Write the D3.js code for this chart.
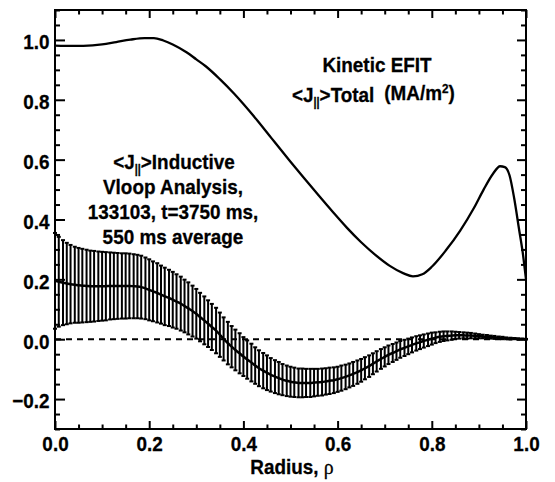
<!DOCTYPE html>
<html>
<head>
<meta charset="utf-8">
<script src="https://cdn.jsdelivr.net/npm/d3@7"></script>
<style>
  html, body { margin: 0; padding: 0; background: #fff; }
  svg { display: block; }
  .lbl { font-family: "Liberation Sans", Arial, Helvetica, sans-serif; font-weight: bold; fill: #000;
         font-size: 21px; stroke: #000; stroke-width: 0.3px; }
</style>
</head>
<body>
<svg id="chart" width="555" height="482"></svg>
<script>
// Normalized radius grid of the inductive-current profile
const rho = [
  0.000,0.008,0.017,0.025,0.033,0.042,0.050,0.058,0.067,0.075,0.083,0.092,
  0.100,0.108,0.117,0.125,0.133,0.142,0.150,0.158,0.167,0.175,0.183,0.192,
  0.200,0.208,0.217,0.225,0.233,0.242,0.250,0.258,0.267,0.275,0.283,0.292,
  0.300,0.308,0.317,0.325,0.333,0.342,0.350,0.358,0.367,0.375,0.383,0.392,
  0.400,0.408,0.417,0.425,0.433,0.442,0.450,0.458,0.467,0.475,0.483,0.492,
  0.500,0.508,0.517,0.525,0.533,0.542,0.550,0.558,0.567,0.575,0.583,0.592,
  0.600,0.608,0.617,0.625,0.633,0.642,0.650,0.658,0.667,0.675,0.683,0.692,
  0.700,0.708,0.717,0.725,0.733,0.742,0.750,0.758,0.767,0.775,0.783,0.792,
  0.800,0.808,0.817,0.825,0.833,0.842,0.850,0.858,0.867,0.875,0.883,0.892,
  0.900,0.908,0.917,0.925,0.933,0.942,0.950,0.958,0.967,0.975,0.983,0.992,
  1.000
];
// <J||> inductive, Vloop analysis (MA/m^2), 550 ms average
const jInductive = [
  0.195,0.192,0.189,0.186,0.184,0.182,0.180,0.179,0.178,0.177,0.177,0.177,
  0.177,0.177,0.178,0.178,0.178,0.178,0.178,0.178,0.177,0.176,0.174,0.170,
  0.165,0.160,0.155,0.149,0.143,0.138,0.132,0.126,0.119,0.111,0.103,0.094,
  0.085,0.074,0.063,0.052,0.041,0.029,0.015,0.001,-0.013,-0.025,-0.036,-0.047,
  -0.058,-0.068,-0.078,-0.088,-0.097,-0.105,-0.112,-0.119,-0.125,-0.130,-0.135,-0.139,
  -0.142,-0.144,-0.146,-0.146,-0.146,-0.146,-0.145,-0.144,-0.143,-0.141,-0.139,-0.137,
  -0.134,-0.130,-0.126,-0.121,-0.116,-0.110,-0.104,-0.097,-0.090,-0.082,-0.074,-0.066,
  -0.059,-0.052,-0.046,-0.040,-0.034,-0.029,-0.024,-0.019,-0.014,-0.010,-0.006,-0.002,
  0.002,0.005,0.008,0.010,0.011,0.012,0.013,0.013,0.013,0.012,0.012,0.011,
  0.010,0.009,0.008,0.007,0.006,0.005,0.004,0.003,0.002,0.002,0.001,0.001,
  0.000
];
// One-sigma spread over the averaging window
const jInductiveErr = [
  0.160,0.150,0.142,0.136,0.131,0.127,0.125,0.123,0.121,0.119,0.118,0.116,
  0.115,0.114,0.112,0.111,0.110,0.109,0.109,0.108,0.107,0.106,0.105,0.103,
  0.102,0.100,0.099,0.097,0.096,0.094,0.093,0.091,0.090,0.088,0.087,0.085,
  0.083,0.081,0.080,0.078,0.077,0.076,0.074,0.072,0.071,0.069,0.068,0.067,
  0.065,0.064,0.063,0.061,0.060,0.059,0.058,0.056,0.055,0.054,0.052,0.051,
  0.050,0.049,0.048,0.048,0.047,0.047,0.046,0.045,0.045,0.044,0.044,0.043,
  0.042,0.042,0.041,0.040,0.040,0.039,0.038,0.037,0.036,0.035,0.034,0.033,
  0.032,0.031,0.030,0.029,0.028,0.027,0.026,0.025,0.024,0.023,0.022,0.021,
  0.020,0.018,0.017,0.016,0.015,0.014,0.012,0.011,0.010,0.010,0.009,0.008,
  0.007,0.006,0.006,0.005,0.005,0.004,0.004,0.003,0.003,0.002,0.002,0.001,
  0.001
];
// Kinetic EFIT total <J||> profile
const rhoTotal = [0.00,0.04,0.08,0.10,0.13,0.16,0.19,0.21,0.23,0.25,0.28,0.30,0.32,0.35,0.38,0.40,
  0.43,0.46,0.50,0.53,0.56,0.59,0.62,0.65,0.68,0.71,0.74,0.76,0.78,0.80,0.83,0.86,0.89,0.91,0.93,
  0.945,0.955,0.965,0.975,0.985,0.993,1.000];
const jTotal = [0.981,0.980,0.982,0.985,0.993,1.001,1.006,1.006,0.998,0.985,0.958,0.935,0.912,0.869,0.821,0.786,
  0.730,0.671,0.593,0.536,0.480,0.425,0.372,0.324,0.282,0.246,0.220,0.210,0.217,0.242,0.297,0.362,0.440,0.500,0.553,
  0.578,0.575,0.548,0.470,0.370,0.290,0.200];

const xMajor = [0.0, 0.2, 0.4, 0.6, 0.8, 1.0];
const yMajor = [-0.2, 0.0, 0.2, 0.4, 0.6, 0.8, 1.0];

const plotL = 55, plotR = 526, plotT = 10, plotB = 429;
const squeeze = 0.9;   // horizontal condensing of the bold lettering
const svg = d3.select("#chart");
const x = d3.scaleLinear().domain([0, 1]).range([plotL, plotR]);
const y = d3.scaleLinear().domain([-0.3, 1.1]).range([plotB, plotT]);

const isMajor = v => Math.abs(v / 0.2 - Math.round(v / 0.2)) < 1e-6;
const xMinor = d3.range(0, 1.0001, 0.05).filter(v => !isMajor(v));
const yMinor = d3.range(-0.3, 1.1001, 0.05).filter(v => !isMajor(v));

const fmt = d3.format(".1f");

function styleAxis(g, labels) {
  g.select(".domain").remove();
  g.selectAll(".tick line").attr("stroke", "#000").attr("stroke-width", 2);
  if (labels) g.selectAll(".tick text").attr("class", "lbl").attr("transform", `scale(${squeeze},1)`);
  else g.selectAll(".tick text").remove();
}

// Bottom / top
svg.append("g").attr("transform", `translate(0,${plotB})`)
  .call(d3.axisBottom(x).tickValues(xMajor).tickSize(-8).tickPadding(7).tickFormat(fmt))
  .call(g => styleAxis(g, true));
svg.append("g").attr("transform", `translate(0,${plotB})`)
  .call(d3.axisBottom(x).tickValues(xMinor).tickSize(-4.5).tickFormat(""))
  .call(g => styleAxis(g, false));
svg.append("g").attr("transform", `translate(0,${plotT})`)
  .call(d3.axisTop(x).tickValues(xMajor).tickSize(-8).tickFormat(""))
  .call(g => styleAxis(g, false));
svg.append("g").attr("transform", `translate(0,${plotT})`)
  .call(d3.axisTop(x).tickValues(xMinor).tickSize(-4.5).tickFormat(""))
  .call(g => styleAxis(g, false));
// Left / right
svg.append("g").attr("transform", `translate(${plotL},0)`)
  .call(d3.axisLeft(y).tickValues(yMajor).tickSize(-10).tickPadding(6).tickFormat(fmt))
  .call(g => styleAxis(g, true))
  .call(g => g.selectAll(".tick text").attr("dy", "0.42em"));
svg.append("g").attr("transform", `translate(${plotL},0)`)
  .call(d3.axisLeft(y).tickValues(yMinor).tickSize(-5).tickFormat(""))
  .call(g => styleAxis(g, false));
svg.append("g").attr("transform", `translate(${plotR},0)`)
  .call(d3.axisRight(y).tickValues(yMajor).tickSize(-9).tickFormat(""))
  .call(g => styleAxis(g, false));
svg.append("g").attr("transform", `translate(${plotR},0)`)
  .call(d3.axisRight(y).tickValues(yMinor).tickSize(-5).tickFormat(""))
  .call(g => styleAxis(g, false));

// Frame
svg.append("rect").attr("x", plotL).attr("y", plotT)
  .attr("width", plotR - plotL).attr("height", plotB - plotT)
  .attr("fill", "none").attr("stroke", "#000").attr("stroke-width", 2);

// Zero reference
svg.append("line").attr("x1", x(0)).attr("x2", x(1)).attr("y1", y(0)).attr("y2", y(0))
  .attr("stroke", "#000").attr("stroke-width", 2).attr("stroke-dasharray", "6,5");

// Inductive profile: error bars with caps
const bars = svg.append("g").attr("stroke", "#000").attr("stroke-width", 2);
rho.forEach((r, i) => {
  const cx = x(r), y1 = y(jInductive[i] + jInductiveErr[i]), y2 = y(jInductive[i] - jInductiveErr[i]);
  bars.append("line").attr("x1", cx).attr("x2", cx).attr("y1", y1).attr("y2", y2);
  bars.append("line").attr("x1", cx - 2).attr("x2", cx + 2).attr("y1", y1).attr("y2", y1);
  bars.append("line").attr("x1", cx - 2).attr("x2", cx + 2).attr("y1", y2).attr("y2", y2);
});
svg.append("path")
  .datum(rho.map((r, i) => [r, jInductive[i]]))
  .attr("fill", "none").attr("stroke", "#000").attr("stroke-width", 2.5)
  .attr("d", d3.line().x(d => x(d[0])).y(d => y(d[1])).curve(d3.curveMonotoneX));

// Total profile
svg.append("path")
  .datum(rhoTotal.map((r, i) => [r, jTotal[i]]))
  .attr("fill", "none").attr("stroke", "#000").attr("stroke-width", 2.3)
  .attr("d", d3.line().x(d => x(d[0])).y(d => y(d[1])).curve(d3.curveMonotoneX));

// Condensed text block placed at (px, py)
function label(px, py, anchor) {
  return svg.append("text").attr("class", "lbl")
    .attr("transform", `translate(${px},${py}) scale(${squeeze},1)`)
    .attr("text-anchor", anchor);
}
function addJ(t, rest) {
  t.append("tspan").text("<J");
  t.append("tspan").attr("dy", 4).style("font-size", "12px").text("||");
  t.append("tspan").attr("dy", -4).text(">" + rest);
}

// Axis title
const xt = label(292, 474, "middle");
xt.append("tspan").text("Radius, ");
xt.append("tspan").style("font-family", "'Liberation Serif', 'DejaVu Serif', serif")
  .style("font-weight", "normal").style("font-size", "22px").text("ρ");

// Annotations
label(377, 72, "middle").text("Kinetic EFIT");
const tt = label(292, 102, "start");
addJ(tt, "Total");
tt.append("tspan").attr("dx", 11).attr("dy", -2).text("(MA/m");
tt.append("tspan").attr("dy", -7).style("font-size", "13px").text("2");
tt.append("tspan").attr("dy", 7).text(")");

addJ(label(174, 169, "middle"), "Inductive");
const lines = ["Vloop Analysis,", "133103, t=3750 ms,", "550 ms average"];
lines.forEach((s, i) => label(173, 194 + i * 25, "middle").text(s));
</script>
</body>
</html>
